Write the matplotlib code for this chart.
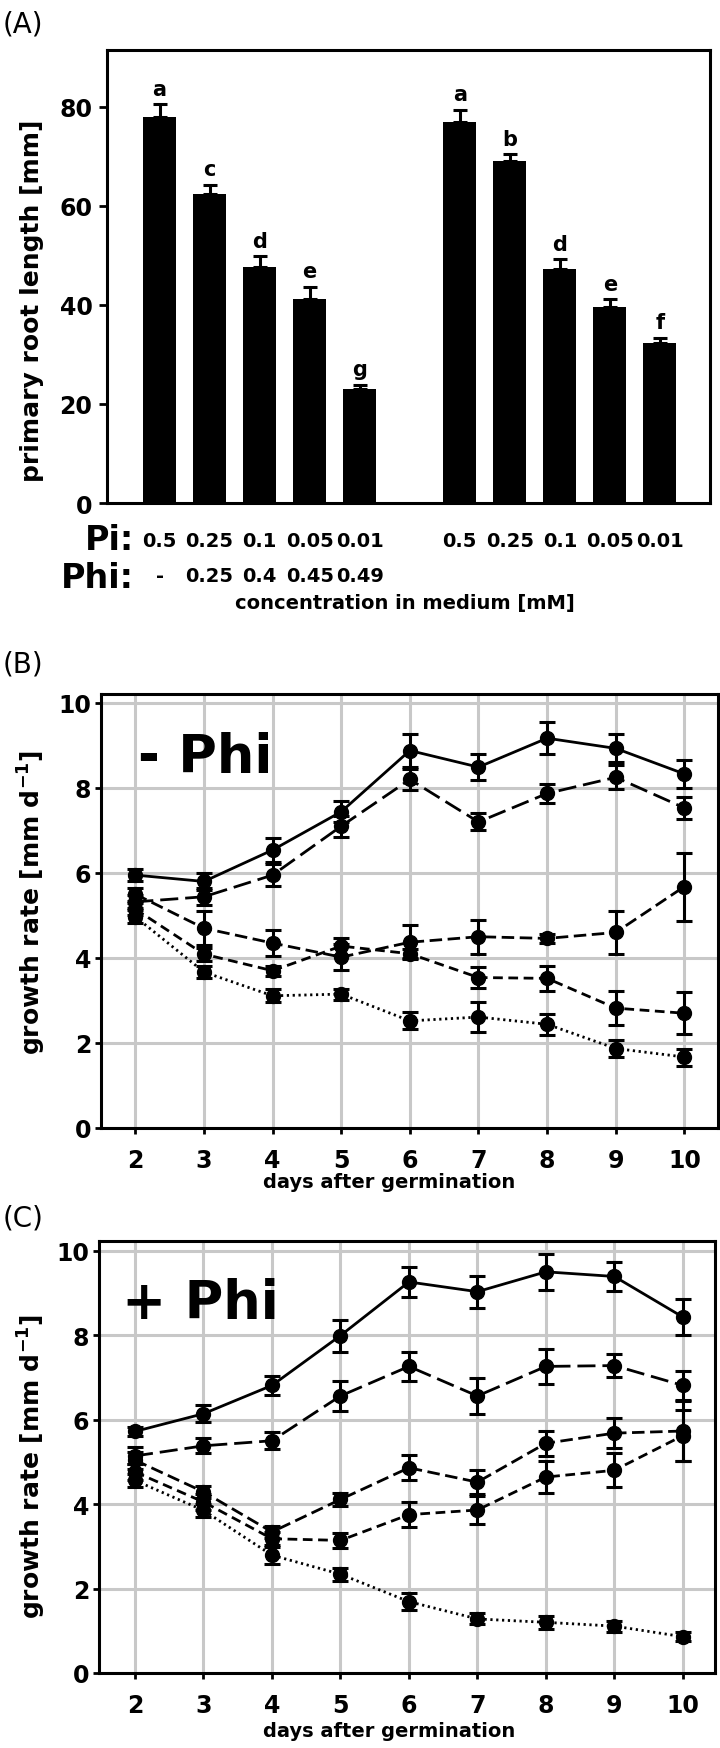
import matplotlib
matplotlib.use('Agg')
import matplotlib.pyplot as plt
import numpy as np
from matplotlib import transforms

plt.rcParams['font.family'] = ['DejaVu Sans']
plt.rcParams['font.weight'] = 'bold'
plt.rcParams['mathtext.default'] = 'bf'

# ---------------- data: panel A ----------------
pi_conc = ["0.5", "0.25", "0.1", "0.05", "0.01"]
phi_conc = ["-", "0.25", "0.4", "0.45", "0.49"]
root_len_minus = [78.0, 62.5, 47.7, 41.3, 23.0]
root_err_minus = [2.6, 1.8, 2.1, 2.4, 0.9]
letters_minus = ["a", "c", "d", "e", "g"]
root_len_plus = [77.0, 69.0, 47.2, 39.6, 32.3]
root_err_plus = [2.4, 1.5, 2.1, 1.6, 1.1]
letters_plus = ["a", "b", "d", "e", "f"]

# ---------------- data: panels B / C ----------------
days = [2, 3, 4, 5, 6, 7, 8, 9, 10]
# - Phi
B_pi050 = [5.95, 5.80, 6.54, 7.44, 8.88, 8.49, 9.17, 8.93, 8.33]
B_pi050_err = [0.15, 0.20, 0.28, 0.25, 0.38, 0.30, 0.38, 0.33, 0.32]
B_pi025 = [5.32, 5.44, 5.95, 7.10, 8.20, 7.20, 7.87, 8.25, 7.53]
B_pi025_err = [0.15, 0.20, 0.25, 0.25, 0.25, 0.20, 0.22, 0.28, 0.25]
B_pi010 = [5.50, 4.70, 4.35, 4.02, 4.37, 4.50, 4.46, 4.60, 5.68]
B_pi010_err = [0.15, 0.40, 0.30, 0.30, 0.40, 0.40, 0.10, 0.50, 0.80]
B_pi005 = [5.15, 4.09, 3.70, 4.28, 4.10, 3.54, 3.52, 2.82, 2.70]
B_pi005_err = [0.15, 0.15, 0.12, 0.20, 0.10, 0.25, 0.30, 0.40, 0.50]
B_pi001 = [4.97, 3.67, 3.11, 3.15, 2.52, 2.61, 2.44, 1.87, 1.67]
B_pi001_err = [0.15, 0.15, 0.15, 0.13, 0.20, 0.35, 0.25, 0.20, 0.20]
# + Phi
C_pi050 = [5.72, 6.14, 6.81, 7.99, 9.26, 9.03, 9.50, 9.39, 8.43]
C_pi050_err = [0.10, 0.20, 0.22, 0.38, 0.35, 0.38, 0.42, 0.35, 0.42]
C_pi025 = [5.14, 5.38, 5.50, 6.56, 7.26, 6.56, 7.26, 7.28, 6.81]
C_pi025_err = [0.20, 0.18, 0.20, 0.35, 0.35, 0.42, 0.42, 0.28, 0.35]
C_pi010 = [5.04, 4.29, 3.34, 4.11, 4.86, 4.52, 5.44, 5.68, 5.73]
C_pi010_err = [0.20, 0.15, 0.15, 0.15, 0.30, 0.28, 0.30, 0.35, 0.70]
C_pi005 = [4.76, 4.05, 3.18, 3.14, 3.75, 3.86, 4.64, 4.80, 5.62]
C_pi005_err = [0.20, 0.20, 0.15, 0.18, 0.30, 0.32, 0.38, 0.40, 0.60]
C_pi001 = [4.56, 3.85, 2.79, 2.34, 1.69, 1.28, 1.20, 1.11, 0.86]
C_pi001_err = [0.15, 0.15, 0.20, 0.15, 0.20, 0.13, 0.15, 0.13, 0.10]

# ---------------- layout helpers ----------------
W, H = 720, 1749
fig = plt.figure(figsize=(W / 100, H / 100), dpi=100)


def fx(px):
    return px / W


def fy(py):
    return 1 - py / H


def rect(l, t, r, b):
    return [l / W, 1 - b / H, (r - l) / W, (b - t) / H]


# ================= Panel A =================
axA = fig.add_axes(rect(107, 51, 710, 504))
n = len(pi_conc)
pos = list(range(n)) + [n + 1 + i for i in range(n)]
means = root_len_minus + root_len_plus
errs = root_err_minus + root_err_plus
letters = letters_minus + letters_plus
axA.bar(pos, means, width=0.66, color='black', zorder=2)
axA.errorbar(pos, means, yerr=[np.zeros(len(errs)), errs], fmt='none',
             ecolor='black', elinewidth=2.2, capsize=4.8, capthick=2.2, zorder=3)
for x, m, e, l in zip(pos, means, errs, letters):
    axA.text(x, m + e + 1.9, l, ha='center', va='baseline', fontsize=15)
axA.set_xlim(-1.05, 11.0)
axA.set_ylim(0, 91.5)
axA.set_xticks([])
axA.set_yticks([0, 20, 40, 60, 80])
axA.tick_params(axis='y', direction='out', length=5.5, width=2, pad=5, labelsize=17)
for s in axA.spines.values():
    s.set_linewidth(2.2)

trans = transforms.blended_transform_factory(axA.transData, fig.transFigure)
for i, x in enumerate(pos):
    axA.text(x, fy(547), pi_conc[i % n], transform=trans, ha='center',
             va='baseline', fontsize=14)
for i in range(n):
    axA.text(pos[i], fy(582), phi_conc[i], transform=trans, ha='center',
             va='baseline', fontsize=14)
fig.text(fx(134), fy(550), 'Pi:', ha='right', va='baseline', fontsize=24)
fig.text(fx(134), fy(588), 'Phi:', ha='right', va='baseline', fontsize=24)
fig.text(fx(405), fy(609), 'concentration in medium [mM]', ha='center',
         va='baseline', fontsize=14)
fig.text(fx(32), fy(301), 'primary root length [mm]', rotation=90,
         ha='center', va='center', fontsize=18)
fig.text(fx(3), fy(24), '(A)', ha='left', va='center', fontsize=20,
         fontweight='normal')

# ================= Panels B, C =================
styles = [
    dict(ls='-'),
    dict(ls=(0, (6.5, 2.5))),
    dict(ls=(0, (4.5, 2.0))),
    dict(ls=(0, (3.5, 2.0))),
    dict(ls=(0, (0.8, 1.3))),
]


def growth_panel(rc, xlim, ylim, series, tag, tag_xy, ylab_y, xlab_y):
    ax = fig.add_axes(rect(*rc))
    ax.set_axisbelow(True)
    ax.grid(True, color='#c8c8c8', lw=2.2, zorder=0)
    for (vals, err), st in zip(series, styles):
        ax.plot(days, vals, color='black', lw=2, dash_capstyle='butt',
                zorder=3, **st)
        ax.errorbar(days, vals, yerr=err, fmt='none', ecolor='black',
                    elinewidth=2.2, capsize=5.5, capthick=2.2, zorder=4)
        ax.plot(days, vals, 'o', color='black', ms=10, ls='none', zorder=5)
    ax.set_xlim(*xlim)
    ax.set_ylim(*ylim)
    ax.set_xticks(days)
    ax.set_yticks([0, 2, 4, 6, 8, 10])
    ax.tick_params(axis='both', direction='out', length=4.5, width=2,
                   labelsize=17)
    ax.tick_params(axis='y', pad=2.5)
    ax.tick_params(axis='x', pad=10)
    for s in ax.spines.values():
        s.set_linewidth(2.2)
        s.set_zorder(6)
    fig.text(fx(tag_xy[0]), fy(tag_xy[1]), tag, ha='left', va='baseline',
             fontsize=38)
    fig.text(fx(32), fy(ylab_y), r'growth rate [mm d$^{\mathbf{-1}}$]',
             rotation=90, ha='center', va='center', fontsize=18)
    fig.text(fx(389), fy(xlab_y), 'days after germination', ha='center',
             va='center', fontsize=14)
    return ax


growth_panel((101, 695, 718, 1129), (1.5, 10.49), (0, 10.21),
             [(B_pi050, B_pi050_err), (B_pi025, B_pi025_err),
              (B_pi010, B_pi010_err), (B_pi005, B_pi005_err),
              (B_pi001, B_pi001_err)],
             '- Phi', (138, 773), 903, 1183)
fig.text(fx(3), fy(665), '(B)', ha='left', va='center', fontsize=20,
         fontweight='normal')

growth_panel((99, 1242, 715, 1674), (1.474, 10.47), (0, 10.23),
             [(C_pi050, C_pi050_err), (C_pi025, C_pi025_err),
              (C_pi010, C_pi010_err), (C_pi005, C_pi005_err),
              (C_pi001, C_pi001_err)],
             '+ Phi', (122, 1319), 1467, 1732)
fig.text(fx(3), fy(1218), '(C)', ha='left', va='center', fontsize=20,
         fontweight='normal')

fig.savefig('out.png', dpi=100)
